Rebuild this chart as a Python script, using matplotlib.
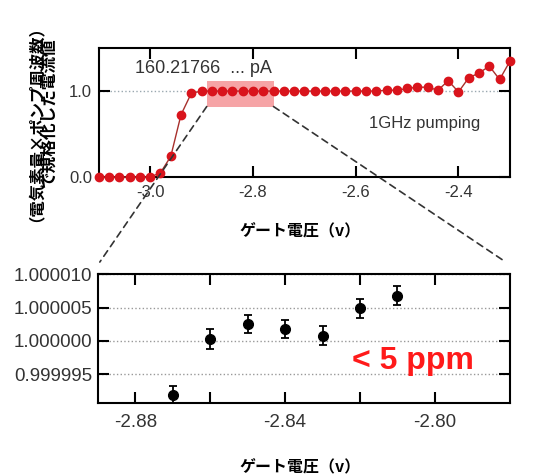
import matplotlib.pyplot as plt
import numpy as np
from matplotlib.patches import Rectangle, ConnectionPatch
from matplotlib.ticker import FixedLocator, FormatStrFormatter

plt.rcParams['font.family'] = ['Liberation Sans', 'Noto Sans CJK JP', 'DejaVu Sans']

# top panel: normalized current vs gate voltage (1 GHz pumping)
gate_v = np.round(np.arange(-3.10, -2.299, 0.02), 2)
current = [0.0, 0.0, 0.0, 0.0, 0.0, 0.0, 0.05, 0.24, 0.725, 0.975,
           1.0, 1.0, 1.0, 1.0, 1.0, 1.0, 1.0, 1.0, 1.0, 1.0,
           1.0, 1.0, 1.0, 1.0, 1.0, 1.0, 1.0, 1.0, 1.01, 1.01,
           1.03, 1.045, 1.045, 1.01, 1.12, 0.99, 1.155, 1.21, 1.29, 1.135,
           1.345]

# bottom panel: zoom of the plateau
zoom_v = [-2.87, -2.86, -2.85, -2.84, -2.83, -2.82, -2.81]
zoom_val = [0.9999919, 1.0000003, 1.0000026, 1.0000018, 1.0000008, 1.0000049, 1.0000068]
zoom_err = [1.4e-6, 1.45e-6, 1.35e-6, 1.4e-6, 1.4e-6, 1.4e-6, 1.4e-6]

cjk = ['Noto Sans CJK JP', 'DejaVu Sans']
red = '#d9141c'

fig = plt.figure(figsize=(5.43, 4.76), dpi=100)
ax1 = fig.add_axes([0.182, 0.628, 0.757, 0.271])
ax2 = fig.add_axes([0.180, 0.153, 0.759, 0.272])

# top plot
ax1.add_patch(Rectangle((-2.89, 0.82), 0.13, 0.295, facecolor='#f6a4a6', edgecolor='none', zorder=1))
ax1.plot(gate_v, current, color='#a8302c', lw=1, marker='o', ms=6,
         mfc=red, mec=red, zorder=3, clip_on=False)
ax1.set_xlim(-3.1, -2.3)
ax1.set_ylim(0, 1.5)
ax1.xaxis.set_major_locator(FixedLocator([-3.0, -2.8, -2.6, -2.4]))
ax1.yaxis.set_major_locator(FixedLocator([0.0, 1.0]))
ax1.xaxis.set_major_formatter(FormatStrFormatter('%.1f'))
ax1.yaxis.set_major_formatter(FormatStrFormatter('%.1f'))
ax1.grid(axis='y', linestyle=':', color='#9aa8b0', lw=1)
ax1.tick_params(direction='in', top=True, right=True, length=8, width=1.5,
                labelsize=12, labelcolor='#333333', pad=5)
ax1.tick_params(axis='x', pad=6)
for s in ax1.spines.values():
    s.set_linewidth(1.5)
ax1.text(-3.03, 1.26, '160.21766  ... pA', fontsize=13, color='#333333', va='center')
ax1.text(-2.465, 0.62, '1GHz pumping', fontsize=12, color='#333333', va='center', ha='center')

# bottom plot
ax2.errorbar(zoom_v, zoom_val, yerr=zoom_err, fmt='o', color='black', ms=7,
             capsize=3, elinewidth=1.3, capthick=1.3)
ax2.set_xlim(-2.89, -2.78)
ax2.set_ylim(0.99999065, 1.0000101)
ax2.xaxis.set_major_locator(FixedLocator([-2.88, -2.84, -2.80]))
ax2.xaxis.set_minor_locator(FixedLocator([-2.86, -2.82]))
ax2.xaxis.set_major_formatter(FormatStrFormatter('%.2f'))
ax2.yaxis.set_major_locator(FixedLocator([0.999995, 1.0, 1.000005, 1.00001]))
ax2.yaxis.set_major_formatter(FormatStrFormatter('%.6f'))
ax2.grid(axis='y', linestyle=':', color='#999999', lw=1)
ax2.tick_params(which='both', direction='in', top=True, right=True, length=8, width=1.5,
                labelsize=13.5, labelcolor='#333333', pad=4)
ax2.tick_params(axis='x', pad=8)
for s in ax2.spines.values():
    s.set_linewidth(1.5)
ax2.text(-2.806, 0.999997, '< 5 ppm', fontsize=23, fontweight='bold', color='#ff1a1a',
         ha='center', va='center')

# dashed zoom lines
for xa, xb in [(-2.89, 0.005), (-2.76, 0.99)]:
    con = ConnectionPatch(xyA=(xa, 0.82), coordsA=ax1.transData,
                          xyB=(xb, 1.09), coordsB=ax2.transAxes,
                          linestyle=(0, (4, 3)), color='#333333', lw=1.2)
    fig.add_artist(con)

# labels
fig.text(0.553, 0.513, 'ゲート電圧（v）', family=cjk, fontsize=11.5, fontweight='bold',
         ha='center', va='center')
fig.text(0.553, 0.019, 'ゲート電圧（v）', family=cjk, fontsize=11.5, fontweight='bold',
         ha='center', va='center')
# two-column vertical label, placed by baseline so the columns do not collide
fig.text(0.059, 0.758, '（電気素量×ポンプ周波数）', family=cjk, fontsize=11.8, fontweight='bold',
         rotation=90, rotation_mode='anchor', ha='center', va='baseline')
fig.text(0.099, 0.764, 'で規格化した電流値', family=cjk, fontsize=12, fontweight='bold',
         rotation=90, rotation_mode='anchor', ha='center', va='baseline')

fig.savefig('out.png', dpi=100)
